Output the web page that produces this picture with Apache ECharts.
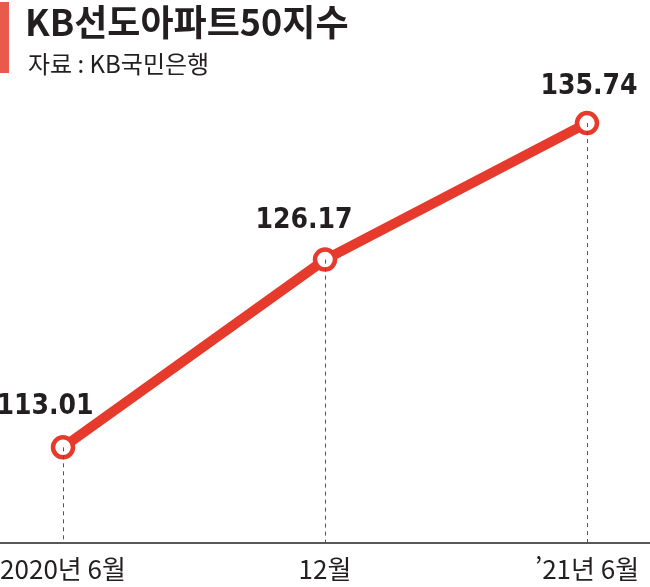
<!DOCTYPE html>
<html lang="ko">
<head>
    <meta charset="UTF-8">
    <title>KB선도아파트50지수</title>
    <script src="https://cdn.jsdelivr.net/npm/echarts@6/dist/echarts.min.js"></script>
    <style>
        html, body { margin: 0; padding: 0; background: #fff; }
    </style>
</head>
<body>
<div id="chart" style="width: 650px;height: 587px;"></div>
<script>
    // 데이터
    var categories = ['2020년 6월', '12월', '\u201921년 6월']
    var values = [113.01, 126.17, 135.74]

    var lineColor = '#e63b2c'
    var labelShift = [[-18, -41], [-21, -39], [2, -36]]  // 값 라벨 위치 보정
    var yMin = 106.3

    var myChart = echarts.init(document.getElementById('chart'))

    var points = values.map(function (v, i) {
        return {
            value: [i, v],
            label: { offset: labelShift[i] }
        }
    })
    // 점에서 x축까지 점선
    var dropLines = values.map(function (v, i) {
        return [{ coord: [i, v] }, { coord: [i, yMin] }]
    })

    var option = {
        backgroundColor: '#fff',
        animation: false,
        title: [
            {
                text: 'KB선도아파트50지수',
                left: 20,
                top: -1,
                textStyle: {
                    fontFamily: 'Noto Sans CJK KR',
                    fontSize: 36,
                    fontWeight: 'bold',
                    color: '#231f20'
                }
            },
            {
                text: '자료 : KB국민은행',
                left: 23,
                top: 47,
                textStyle: {
                    fontFamily: 'Noto Sans CJK KR',
                    fontSize: 24,
                    fontWeight: 'normal',
                    color: '#231f20'
                }
            }
        ],
        graphic: [
            {
                type: 'rect',
                shape: { x: 0, y: 2, width: 9, height: 71 },
                style: { fill: '#e95a4c' }
            }
        ],
        grid: { left: 0, right: 0, top: 100, bottom: 44, outerBoundsMode: 'none' },
        xAxis: {
            type: 'value',
            min: -0.2405,
            max: 2.2405,
            axisLine: { show: true, onZero: false, lineStyle: { color: '#231f20', width: 1.5 } },
            axisTick: { show: false },
            splitLine: { show: false },
            axisLabel: {
                customValues: [0, 1, 2],
                formatter: function (v) { return categories[Math.round(v)] },
                margin: 13,
                fontFamily: 'Noto Sans CJK KR',
                fontSize: 26,
                color: '#231f20'
            }
        },
        yAxis: {
            type: 'value',
            min: yMin,
            max: 137.36,
            show: false
        },
        series: [
            {
                type: 'line',
                data: [],
                z: 1,
                markLine: {
                    silent: true,
                    symbol: 'none',
                    label: { show: false },
                    lineStyle: { color: '#555', width: 1, type: [4, 4] },
                    data: dropLines
                }
            },
            {
                type: 'line',
                z: 3,
                data: points,
                lineStyle: { color: lineColor, width: 10 },
                symbol: 'circle',
                symbolSize: 20,
                itemStyle: { color: '#fff', borderColor: lineColor, borderWidth: 4.5 },
                label: {
                    show: true,
                    position: 'inside',
                    formatter: function (p) { return p.value[1].toFixed(2) },
                    fontFamily: 'DejaVu Sans Condensed',
                    fontWeight: 'bold',
                    fontSize: 28,
                    color: '#231f20'
                }
            }
        ]
    }
    myChart.setOption(option)
</script>
</body>
</html>
